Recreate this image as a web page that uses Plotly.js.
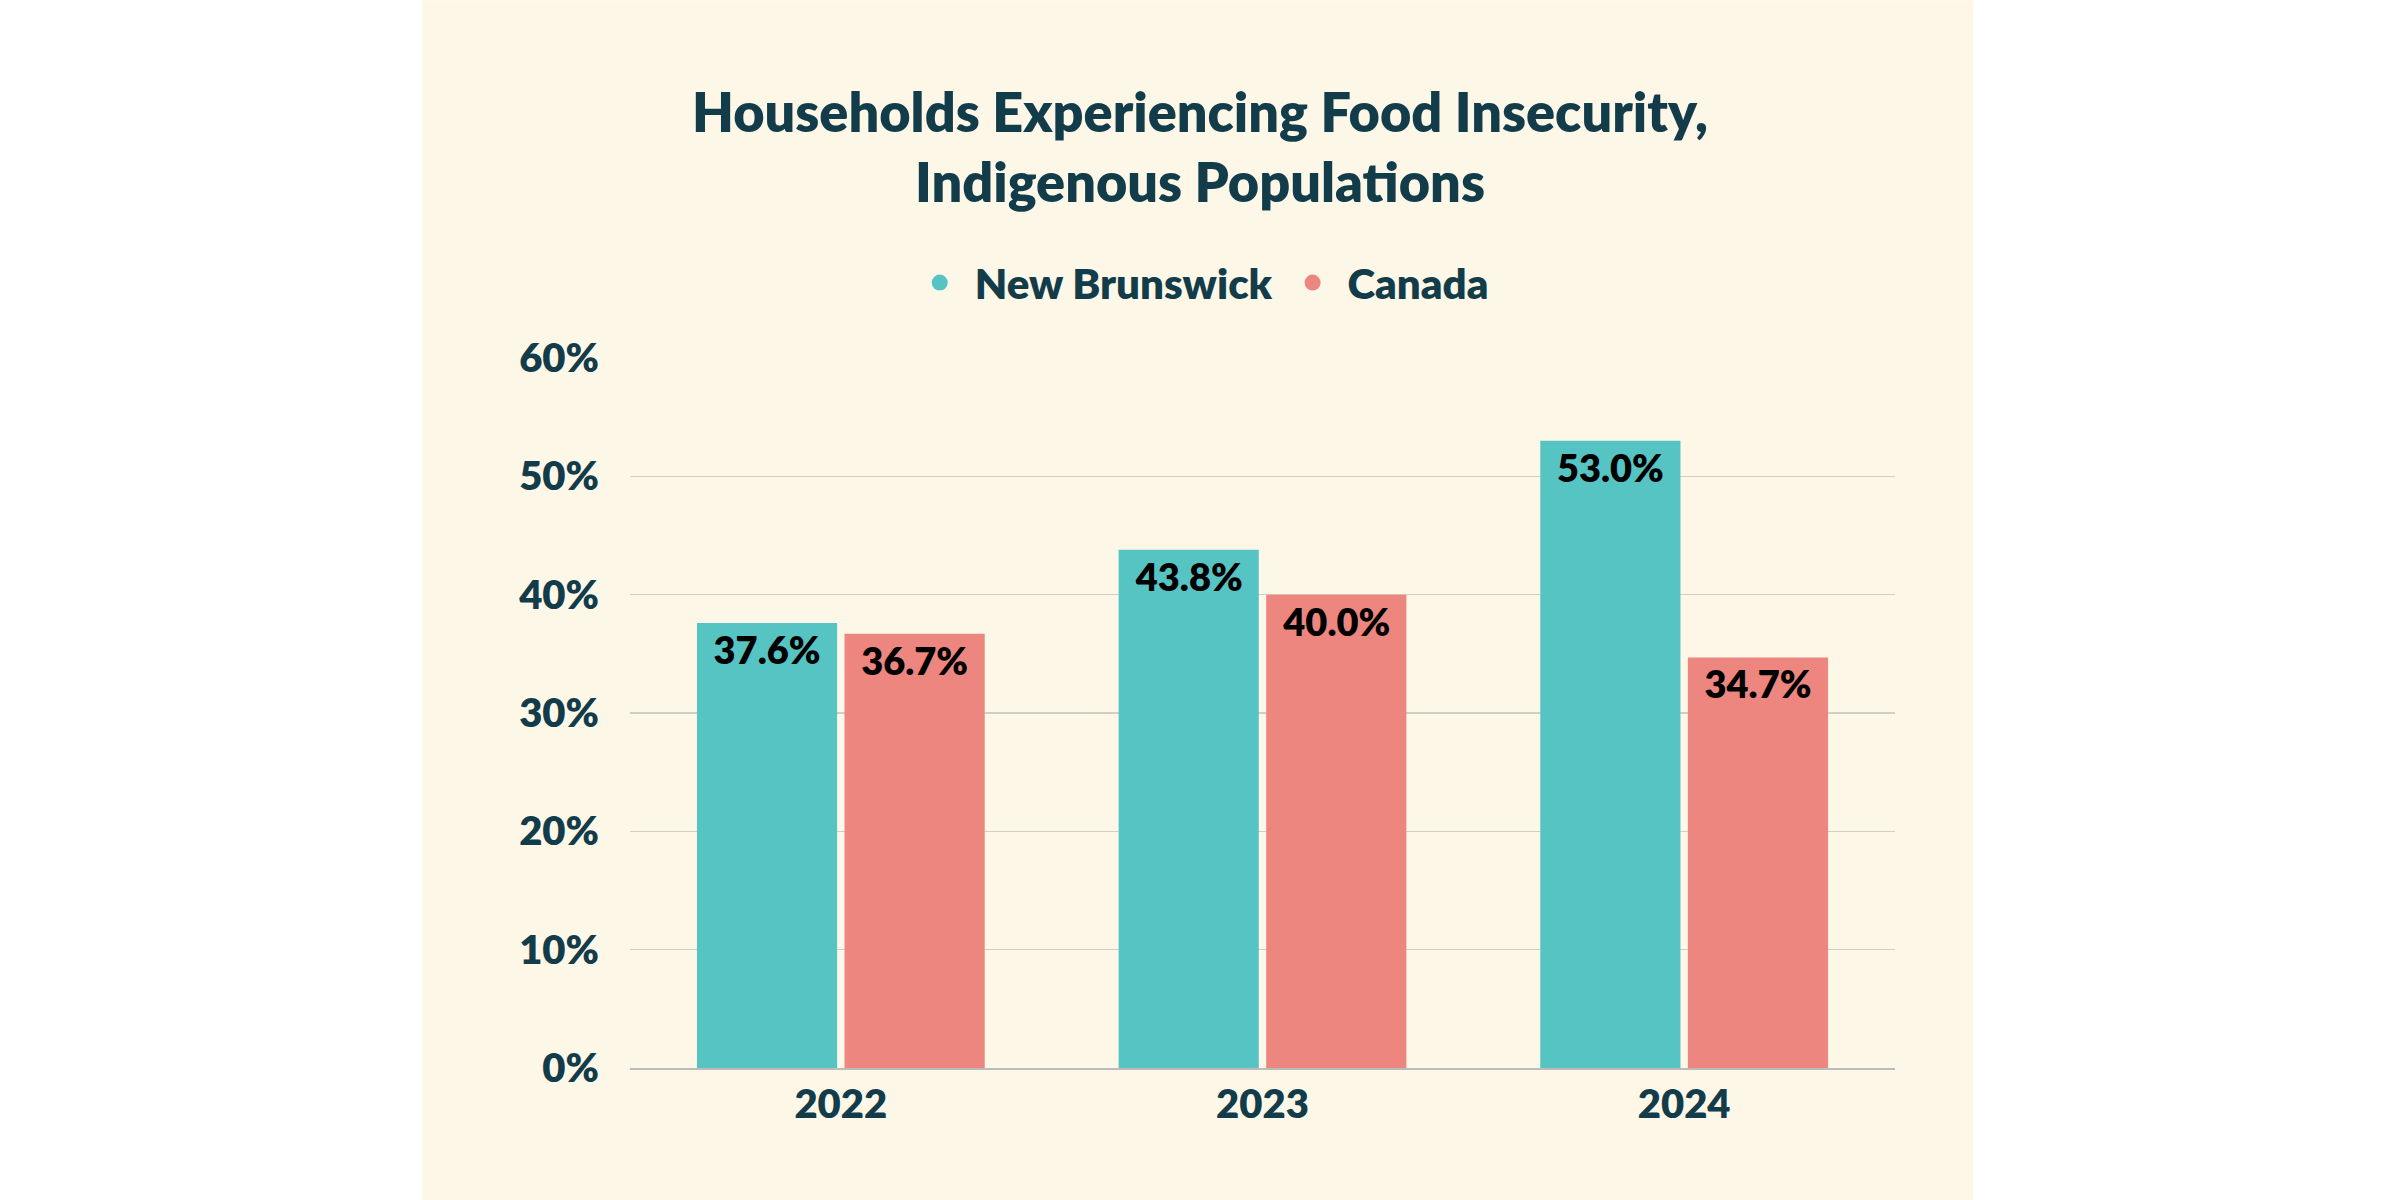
<!DOCTYPE html>
<html>
<head>
<meta charset="utf-8">
<script src="https://cdn.plot.ly/plotly-3.0.1.min.js"></script>
<style>body{margin:0;background:#fff}</style>
</head>
<body>
<div id="chart" style="width:2400px;height:1200px"></div>
<script>
var years = ['2022', '2023', '2024']
var newBrunswick = [37.6, 43.8, 53.0]
var canada = [36.7, 40.0, 34.7]
var seriesNames = ['New Brunswick', 'Canada']
var colors = ['#57C4C4', '#EE8680']
var ink = '#133C4A'
var fontFam = 'Lato, "Open Sans", sans-serif'

function barTrace(name, vals, color) {
    return {
        x: years, y: vals, type: 'bar', name: name,
        marker: { color: color },
        text: vals.map(v => v.toFixed(1) + '%'),
        textposition: 'inside', insidetextanchor: 'end',
        textfont: { family: fontFam, size: 38, color: '#000', weight: 800 },
        showlegend: false, hoverinfo: 'skip', cliponaxis: false
    }
}
function legendTrace(name, color) {
    return {
        x: [years[0]], y: [null], type: 'scatter', mode: 'markers', name: name,
        marker: { color: color, size: 40, symbol: 'circle' }
    }
}

var data = [
    barTrace(seriesNames[0], newBrunswick, colors[0]),
    barTrace(seriesNames[1], canada, colors[1]),
    legendTrace(seriesNames[0], colors[0]),
    legendTrace(seriesNames[1], colors[1])
]

var layout = {
    width: 2400, height: 1200,
    margin: { l: 630, r: 505, t: 358, b: 132 },
    paper_bgcolor: '#ffffff', plot_bgcolor: 'rgba(0,0,0,0)',
    font: { family: fontFam, color: ink, weight: 800 },
    title: {
        text: 'Households Experiencing Food Insecurity,<br>Indigenous Populations',
        font: { size: 54, color: ink, family: fontFam, weight: 800 },
        x: 0.5, xanchor: 'center', y: 0.89, yanchor: 'middle'
    },
    barmode: 'group', bargap: 0.3, bargroupgap: 0.05,
    showlegend: true,
    legend: {
        orientation: 'h', x: 0.45, xanchor: 'center', y: 1.106, yanchor: 'middle',
        font: { size: 42, color: ink, family: fontFam, weight: 800 },
        itemwidth: 60, bgcolor: 'rgba(0,0,0,0)'
    },
    xaxis: {
        type: 'category',
        tickfont: { size: 40, color: ink, family: fontFam, weight: 800 },
        showline: true, linecolor: '#bbbbbb', linewidth: 2, ticks: '', ticklen: 0,
        fixedrange: true
    },
    yaxis: {
        range: [0, 60], dtick: 10, ticksuffix: '%',
        tickfont: { size: 40, color: ink, family: fontFam, weight: 800 },
        gridcolor: '#cfcfc4', gridwidth: 1.5, zeroline: false, ticklabelstandoff: 30,
        fixedrange: true
    },
    shapes: [{
        type: 'rect', xref: 'paper', yref: 'paper', layer: 'below',
        x0: -0.164, x1: 1.062, y0: -0.186, y1: 1.504,
        fillcolor: '#FDF7E8', line: { width: 0 }
    }]
}

Plotly.newPlot('chart', data, layout, { displayModeBar: false, staticPlot: true })
</script>
</body>
</html>
